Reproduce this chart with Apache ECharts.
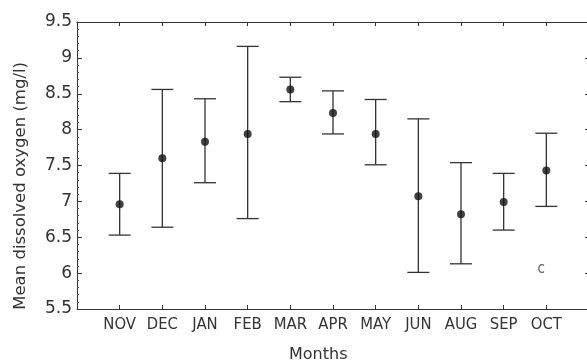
<!DOCTYPE html>
<html>
<head>
<meta charset="utf-8">
<script src="https://cdn.jsdelivr.net/npm/echarts@6/dist/echarts.min.js"></script>
<style>
html,body{margin:0;padding:0;background:#fff;}
#chart{width:587px;height:360px;}
</style>
</head>
<body>
<div id="chart"></div>
<script>
const months = ['NOV','DEC','JAN','FEB','MAR','APR','MAY','JUN','AUG','SEP','OCT'];
const meanDO = [6.96, 7.60, 7.83, 7.94, 8.56, 8.23, 7.94, 7.07, 6.82, 6.99, 7.43];
const lowerDO = [6.53, 6.64, 7.26, 6.76, 8.39, 7.94, 7.51, 6.01, 6.13, 6.60, 6.93];
const upperDO = [7.39, 8.56, 8.43, 9.16, 8.73, 8.54, 8.42, 8.15, 7.54, 7.39, 7.95];
const yTicks = [5.5, 6, 6.5, 7, 7.5, 8, 8.5, 9, 9.5];
const annotation = { text: 'c', month: 'OCT', value: 6.05 };

const xCats = [''].concat(months, ['']);
const errData = months.map((m, i) => [m, lowerDO[i], upperDO[i]]);
const meanData = months.map((m, i) => [m, meanDO[i]]);

const axisColor = '#333';
const lineColor = '#333';

const chart = echarts.init(document.getElementById('chart'));
chart.setOption({
  animation: false,
  backgroundColor: '#fff',
  grid: { left: 77, top: 22, right: -2, bottom: 51, containLabel: false, outerBoundsMode: 'none' },
  title: {
    text: 'Months',
    left: 284, top: 342,
    textStyle: { fontFamily: 'DejaVu Sans', fontSize: 16, fontWeight: 'normal', color: '#333' }
  },
  graphic: [{
    type: 'text',
    left: 12,
    top: 62,
    style: { text: 'Mean dissolved oxygen (mg/l)', fontFamily: 'DejaVu Sans', fontSize: 16.5, fill: '#333' },
    rotation: Math.PI / 2
  }],
  xAxis: [{
    type: 'category',
    data: xCats,
    boundaryGap: false,
    position: 'bottom',
    axisLine: { show: true, lineStyle: { color: axisColor, width: 1 } },
    axisTick: { show: true, inside: true, length: 4, lineStyle: { color: axisColor } },
    axisLabel: { show: true, margin: 7, fontFamily: 'DejaVu Sans Condensed', fontSize: 16.5, color: '#333', interval: 0 },
    splitLine: { show: false }
  }, {
    type: 'category',
    data: xCats,
    boundaryGap: false,
    position: 'top',
    axisLine: { show: true, lineStyle: { color: axisColor, width: 1 } },
    axisTick: { show: true, inside: true, length: 4, lineStyle: { color: axisColor } },
    axisLabel: { show: false },
    splitLine: { show: false }
  }],
  yAxis: [{
    type: 'value',
    min: yTicks[0], max: yTicks[yTicks.length - 1], interval: 0.5,
    position: 'left',
    axisLine: { show: true, lineStyle: { color: axisColor, width: 1 } },
    axisTick: { show: true, inside: true, length: 5, lineStyle: { color: axisColor } },
    minorTick: { show: true, splitNumber: 5, length: 2, lineStyle: { color: '#555' } },
    axisLabel: { margin: 5, fontFamily: 'DejaVu Sans', fontSize: 17, color: '#333',
      formatter: v => String(v) },
    splitLine: { show: false }
  }, {
    type: 'value',
    min: yTicks[0], max: yTicks[yTicks.length - 1], interval: 0.5,
    position: 'right',
    axisLine: { show: false },
    axisTick: { show: true, inside: true, length: 4, lineStyle: { color: axisColor } },
    axisLabel: { show: false },
    splitLine: { show: false }
  }],
  series: [{
    type: 'custom',
    xAxisIndex: 0, yAxisIndex: 0,
    data: errData,
    renderItem: function (params, api) {
      const x = api.value(0);
      const lo = api.coord([x, api.value(1)]);
      const hi = api.coord([x, api.value(2)]);
      const half = 11;
      const style = { stroke: lineColor, lineWidth: 1.3 };
      return {
        type: 'group',
        children: [
          { type: 'line', shape: { x1: hi[0], y1: hi[1], x2: lo[0], y2: lo[1] }, style: style },
          { type: 'line', shape: { x1: hi[0] - half, y1: hi[1], x2: hi[0] + half, y2: hi[1] }, style: style },
          { type: 'line', shape: { x1: lo[0] - half, y1: lo[1], x2: lo[0] + half, y2: lo[1] }, style: style }
        ]
      };
    },
    z: 2
  }, {
    type: 'scatter',
    xAxisIndex: 0, yAxisIndex: 0,
    data: meanData,
    symbol: 'circle',
    symbolSize: 8,
    itemStyle: { color: '#111' },
    z: 3
  }, {
    type: 'scatter',
    xAxisIndex: 0, yAxisIndex: 0,
    data: [[annotation.month, annotation.value]],
    symbolSize: 0,
    label: {
      show: true, position: 'inside', offset: [-5, 0],
      formatter: annotation.text,
      fontFamily: 'DejaVu Sans Condensed', fontSize: 15, color: '#333'
    },
    z: 3
  }]
});
</script>
</body>
</html>
